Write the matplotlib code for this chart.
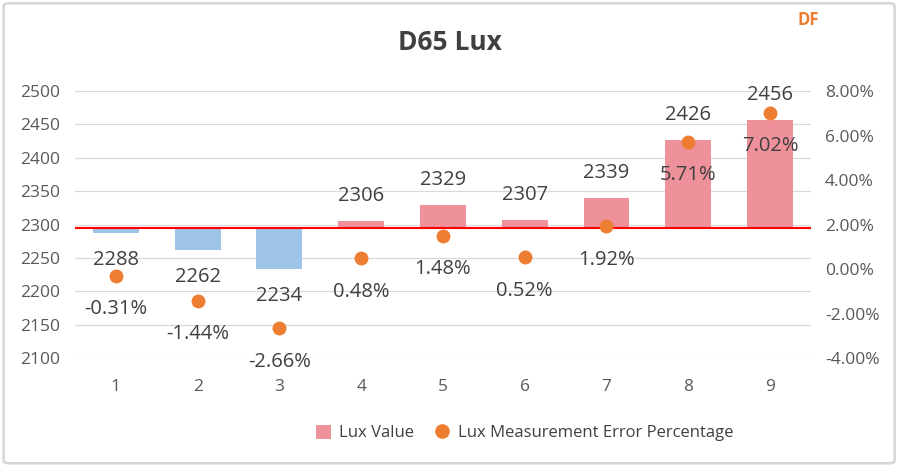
import matplotlib
matplotlib.use("Agg")
import matplotlib.pyplot as plt
from matplotlib.patches import Patch, FancyBboxPatch
from matplotlib.lines import Line2D
from matplotlib.ticker import FuncFormatter

plt.rcParams['font.family'] = ['Open Sans', 'DejaVu Sans']

# data
samples = [1, 2, 3, 4, 5, 6, 7, 8, 9]
lux = [2288, 2262, 2234, 2306, 2329, 2307, 2339, 2426, 2456]
err_pct = [-0.31, -1.44, -2.66, 0.48, 1.48, 0.52, 1.92, 5.71, 7.02]
reference = 2295

pink = '#EE919B'
blue = '#9DC3E6'
orange = '#ED7D31'
txt = '#404040'
tick_c = '#595959'

fig = plt.figure(figsize=(9, 4.67), dpi=100)
ax = fig.add_axes([0.0833, 0.2334, 0.8177, 0.5717])
ax2 = ax.twinx()

# bars from the reference level
heights = [v - reference for v in lux]
colors = [pink if h >= 0 else blue for h in heights]
ax.bar(samples, heights, bottom=reference, width=0.56, color=colors, zorder=2)
ax.axhline(reference, color='#FF0000', lw=1.5, zorder=3)

for s, v, h in zip(samples, lux, heights):
    off = 18 if h >= 0 else -19.5
    ax.annotate(str(v), (s, v), xytext=(0, off), textcoords='offset points',
                ha='center', va='center', fontsize=14.5, color=txt, zorder=5)

ax.set_xlim(0.5, 9.5)
ax.set_ylim(2100, 2500)
ax.set_yticks(range(2100, 2501, 50))
ax.set_xticks(samples)
ax.grid(axis='y', color='#D9D9D9', lw=0.9, zorder=0)
ax.set_axisbelow(True)
ax.tick_params(axis='both', length=0, labelsize=12.5, colors=tick_c)
ax.tick_params(axis='y', pad=11)
ax.tick_params(axis='x', pad=15)

# error dots on the right axis
ax2.scatter(samples, err_pct, s=100, color=orange, zorder=4, linewidths=0)
for s, e in zip(samples, err_pct):
    ax2.annotate(f"{e:.2f}%", (s, e), xytext=(0, -24), textcoords='offset points',
                 ha='center', va='center', fontsize=14.5, color=txt, zorder=5)
ax2.set_ylim(-4, 8)
ax2.set_yticks(range(-4, 9, 2))
ax2.yaxis.set_major_formatter(FuncFormatter(lambda v, p: f"{v:.2f}%"))
ax2.tick_params(axis='y', length=0, labelsize=12.5, colors=tick_c, pad=10)

for a in (ax, ax2):
    for sp in a.spines.values():
        sp.set_visible(False)

fig.text(0.5, 1 - 42 / 467, 'D65 Lux', ha='center', va='center',
         fontsize=19, fontweight='bold', color=txt)
fig.text(808 / 900, 1 - 20 / 467, 'DF', ha='center', va='center',
         fontsize=12, fontweight='bold', color=orange)

handles = [Patch(facecolor=pink, edgecolor='none'),
           Line2D([], [], marker='o', ls='none', color=orange, markersize=9.5)]
fig.legend(handles, ['Lux Value', 'Lux Measurement Error Percentage'],
           loc='center', bbox_to_anchor=(0.583, 1 - 433 / 467), ncol=2,
           frameon=False, fontsize=12, handlelength=0.9, handleheight=0.9,
           handletextpad=0.5, columnspacing=1.2, labelcolor=txt)

# light frame around the chart area
fig.patches.append(FancyBboxPatch((0.004, 0.008), 0.99, 0.985,
                                  boxstyle='round,pad=0,rounding_size=0.006',
                                  transform=fig.transFigure, fill=False,
                                  edgecolor='#D6D6D6', lw=1.8))

fig.savefig('out.png', dpi=100)
